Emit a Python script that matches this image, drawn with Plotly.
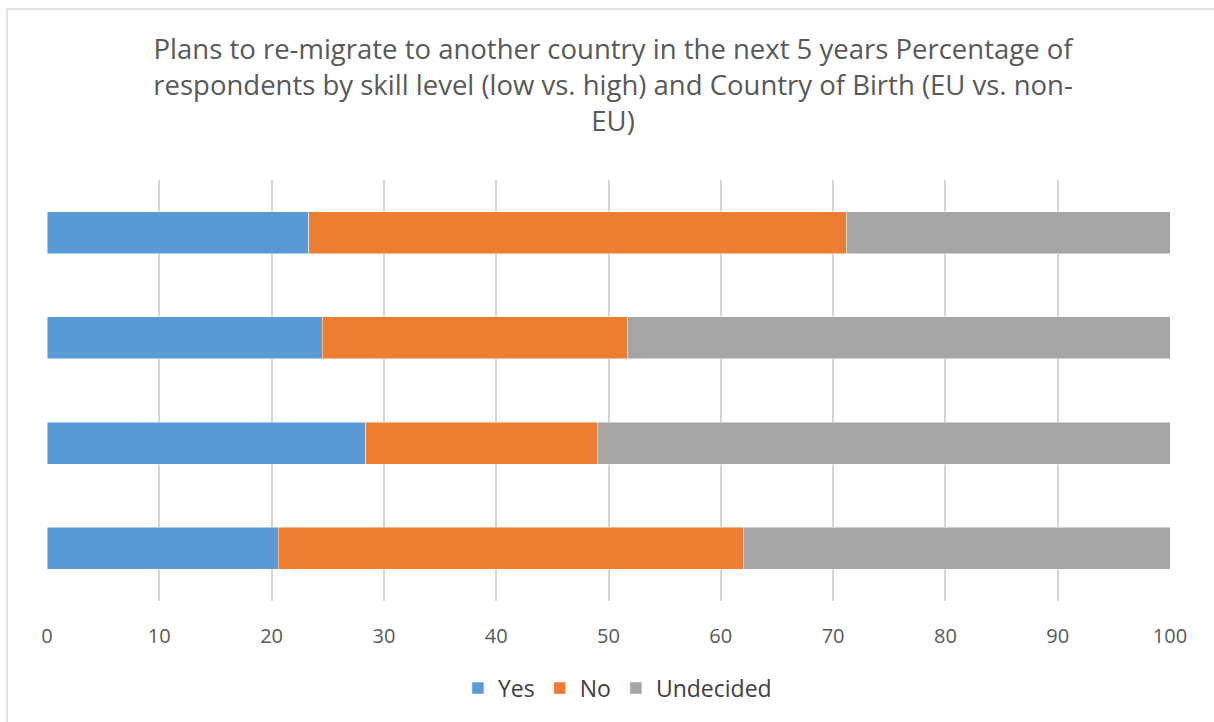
import plotly.graph_objects as go

# Respondent groups (bottom to top on the chart)
groups = ["Low skilled, EU-born", "Low skilled, non-EU-born",
          "High skilled, EU-born", "High skilled, non-EU-born"]

# Share of respondents (%) per answer
yes_pct = [20.6, 28.4, 24.5, 23.3]
no_pct = [41.4, 20.6, 27.2, 47.9]
undecided_pct = [38.0, 51.0, 48.3, 28.8]

series = [
    ("Yes", yes_pct, "#5B9BD5"),
    ("No", no_pct, "#ED7D31"),
    ("Undecided", undecided_pct, "#A5A5A5"),
]

FONT = "Open Sans"
GREY_TEXT = "#595959"

fig = go.Figure()
for name, vals, color in series:
    fig.add_trace(go.Bar(
        y=groups, x=vals, name=name, orientation="h",
        marker=dict(color=color, line=dict(color="rgba(255,255,255,0.6)", width=0.8)),
        hoverinfo="x+name",
    ))

fig.update_layout(
    width=1214, height=722,
    barmode="stack", bargap=0.6,
    paper_bgcolor="white", plot_bgcolor="white",
    margin=dict(l=47, r=44, t=180, b=121),
    font=dict(family=FONT, color=GREY_TEXT),
    title=dict(
        text="Plans to re-migrate to another country in the next 5 years Percentage of<br>"
             "respondents by skill level (low vs. high) and Country of Birth (EU vs. non-<br>EU)",
        x=0.505, xanchor="center", xref="container",
        y=0.918, yanchor="top", yref="container",
        font=dict(family=FONT, size=27.5, color=GREY_TEXT),
    ),
    xaxis=dict(
        range=[0, 100], dtick=10, tick0=0,
        showgrid=True, gridcolor="#D6D6D6", gridwidth=1.5,
        zeroline=False, showline=False, ticks="",
        tickfont=dict(family=FONT, size=20, color=GREY_TEXT),
        ticklabelstandoff=21,
    ),
    yaxis=dict(showticklabels=False, showgrid=False, zeroline=False, showline=False, ticks=""),
    legend=dict(
        orientation="h", x=0.508, xanchor="center", y=-0.207, yanchor="middle",
        font=dict(family=FONT, size=23, color="#404040"),
        traceorder="normal",
    ),
    showlegend=True,
    shapes=[
        # chart frame (top and left edges)
        dict(type="line", xref="paper", yref="paper",
             x0=(7 - 47) / 1123, x1=1.2, y0=(601 - 9) / 421, y1=(601 - 9) / 421,
             line=dict(color="#D9D9D9", width=1.5)),
        dict(type="line", xref="paper", yref="paper",
             x0=(7 - 47) / 1123, x1=(7 - 47) / 1123, y0=(601 - 9) / 421, y1=-0.5,
             line=dict(color="#D9D9D9", width=1.5)),
    ],
)

fig.write_html("out.html")
